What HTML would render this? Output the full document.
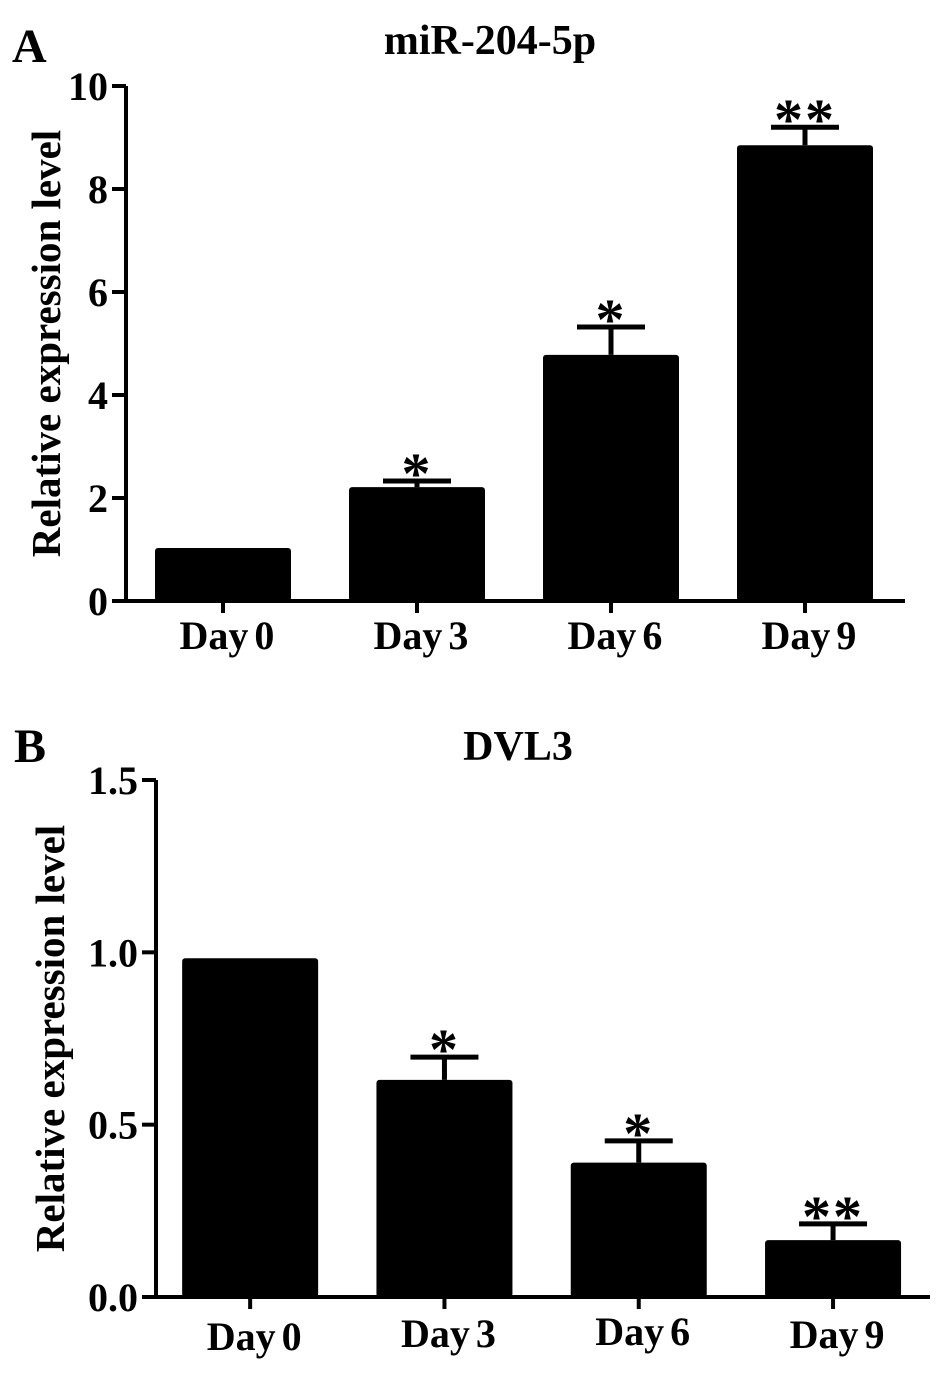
<!DOCTYPE html>
<html><head><meta charset="utf-8">
<style>
html,body{margin:0;padding:0;background:#fff;}
svg text{font-family:"Liberation Serif",serif;font-weight:bold;fill:#000;}
</style></head>
<body>
<svg id="chart" width="945" height="1380" viewBox="0 0 945 1380" xmlns="http://www.w3.org/2000/svg">
<text x="12" y="62" font-size="48">A</text>
<text x="490" y="54" font-size="42" text-anchor="middle">miR-204-5p</text>
<text x="14" y="762" font-size="48">B</text>
<text x="518" y="760" font-size="42" text-anchor="middle">DVL3</text>
<g id="pa"></g><g id="pb"></g>
</svg>
<script>
const categories = ["Day 0","Day 3","Day 6","Day 9"];
const aValues = [1.03, 2.21, 4.78, 8.85];
const aErrors = [0, 0.12, 0.54, 0.35];
const aSig = ["", "*", "*", "**"];
const aTicks = [0,2,4,6,8,10];
const aTickLabels = ["0","2","4","6","8","10"];
const bValues = [0.983, 0.63, 0.39, 0.165];
const bErrors = [0, 0.066, 0.063, 0.047];
const bSig = ["", "*", "*", "**"];
const bTicks = [0,0.5,1.0,1.5];
const bTickLabels = ["0.0","0.5","1.0","1.5"];
const NS="http://www.w3.org/2000/svg";
function mk(g,tag,attrs){const e=document.createElementNS(NS,tag);for(const k in attrs)e.setAttribute(k,attrs[k]);g.appendChild(e);return e;}
function panel(g,cfg){
  const y=v=>cfg.y0-(v-cfg.ymin)/(cfg.ymax-cfg.ymin)*(cfg.y0-cfg.y1);
  const x=i=>cfg.xs+cfg.step*(i+0.5);
  let ax=mk(g,'line',{x1:cfg.ax,y1:y(cfg.ymax),x2:cfg.ax,y2:cfg.y0+2,stroke:'#000','stroke-width':4});
  
  
  let xa=mk(g,'line',{x1:cfg.ax-2,y1:cfg.y0,x2:cfg.xe,y2:cfg.y0,stroke:'#000','stroke-width':4});
  
  
  cfg.ticks.forEach((t,i)=>{
    let l=mk(g,'line',{x1:cfg.ax-14,y1:y(t),x2:cfg.ax,y2:y(t),stroke:'#000','stroke-width':4});
    
    
    let tx=mk(g,'text',{x:cfg.ax-18,y:y(t)+14,'font-size':40,'text-anchor':'end'});
    tx.textContent=cfg.tickLabels[i];
    
    
  });
  let yt=mk(g,'text',{x:0,y:0,'font-size':41,'text-anchor':'middle',transform:`translate(${cfg.ytx},${(y(cfg.ymax)+cfg.y0)/2}) rotate(-90)`});
  yt.textContent='Relative  expression level';
  
  
  categories.forEach((c,i)=>{
    const cx=x(i), v=cfg.vals[i], e=cfg.errs[i];
    if(e>0){
      let el=mk(g,'line',{x1:cx,y1:y(v),x2:cx,y2:y(v+e),stroke:'#000','stroke-width':5});
      
      
      let cp=mk(g,'line',{x1:cx-34,y1:y(v+e),x2:cx+34,y2:y(v+e),stroke:'#000','stroke-width':5});
      
      
    }
    let r=mk(g,'rect',{x:cx-cfg.bw/2,y:y(v),width:cfg.bw,height:cfg.y0-y(v),fill:'#000',rx:3});
    
    
    if(cfg.sig[i]){
      let s=mk(g,'text',{x:cx,y:y(v+e)+12,'font-size':58,'text-anchor':'middle','letter-spacing':'2'});
      s.textContent=cfg.sig[i];
      
      
    }
    let tk=mk(g,'line',{x1:cx,y1:cfg.y0,x2:cx,y2:cfg.y0+12,stroke:'#000','stroke-width':4});
    
    
    let lb=mk(g,'text',{x:cx+4,y:cfg.y0+48+(cfg.lo?cfg.lo[i]:0),'font-size':40,'text-anchor':'middle','word-spacing':'-4'});
    lb.textContent=c;
    
    
  });
}
panel(document.getElementById('pa'),{ax:126,xe:905,xs:126,step:194,bw:136,y0:601,y1:86,ymin:0,ymax:10,vals:aValues,errs:aErrors,sig:aSig,ticks:aTicks,tickLabels:aTickLabels,ytx:60});
panel(document.getElementById('pb'),{ax:156,xe:930,xs:153,step:194.3,bw:136,y0:1297,y1:780,ymin:0,ymax:1.5,vals:bValues,errs:bErrors,sig:bSig,ticks:bTicks,tickLabels:bTickLabels,ytx:64,lo:[5,2,0,3]});
</script>
</body></html>
